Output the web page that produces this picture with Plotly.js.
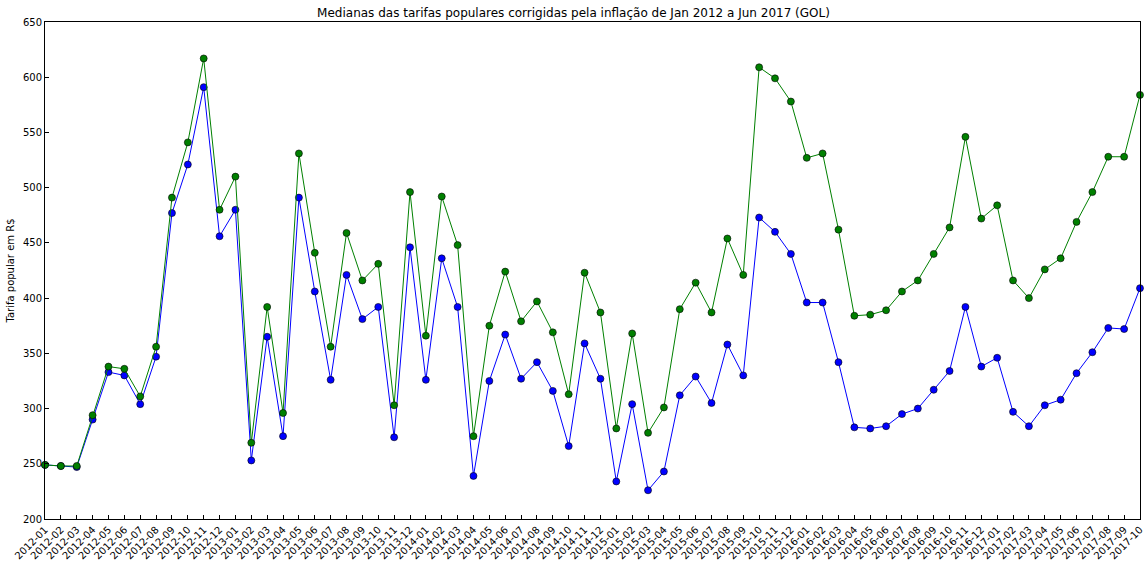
<!DOCTYPE html>
<html>
<head>
<meta charset="utf-8">
<script src="https://cdn.plot.ly/plotly-3.0.1.min.js"></script>
<style>body{margin:0;background:#fff;}</style>
</head>
<body>
<div id="chart" style="width:1147px;height:568px;"></div>
<script>
// months 2012-01 .. 2017-10
const months = [];
for (let y = 2012; y <= 2017; y++) {
    for (let m = 1; m <= 12; m++) {
        if (y === 2017 && m > 10) break;
        months.push(y + '-' + String(m).padStart(2, '0'));
    }
}

const blueValues = [249, 248, 247, 290, 333, 330, 304, 347, 477, 521, 591, 456, 480, 253, 365, 275, 491, 406, 326, 421,
    381, 392, 274, 446, 326, 436, 392, 239, 325, 367, 327, 342, 316, 266, 359, 327, 234, 304, 226, 243,
    312, 329, 305, 358, 330, 473, 460, 440, 396, 396, 342, 283, 282, 284, 295, 300, 317, 334, 392, 338,
    346, 297, 284, 303, 308, 332, 351, 373, 372, 409];

const greenValues = [249, 248, 248, 294, 338, 336, 311, 356, 491, 541, 617, 480, 510, 269, 392, 296, 531, 441, 356, 459,
    416, 431, 303, 496, 366, 492, 448, 275, 375, 424, 379, 397, 369, 313, 423, 387, 282, 368, 278, 301,
    390, 414, 387, 454, 421, 609, 599, 578, 527, 531, 462, 384, 385, 389, 406, 416, 440, 464, 546, 472,
    484, 416, 400, 426, 436, 469, 496, 528, 528, 584];

const idx = months.map((_, i) => i);

function trace(values, color) {
    return {
        type: 'scatter',
        mode: 'lines+markers',
        x: idx,
        y: values,
        line: { color: color, width: 1 },
        marker: { color: color, size: 7, line: { color: 'black', width: 0.6 } },
        showlegend: false,
        cliponaxis: false
    };
}

const data = [ trace(blueValues, '#0000ff'), trace(greenValues, '#008000') ];

const layout = {
    width: 1147,
    height: 568,
    margin: { l: 45, r: 7, t: 22, b: 49 },
    paper_bgcolor: 'white',
    plot_bgcolor: 'white',
    font: { family: 'DejaVu Sans', size: 11, color: 'black' },
    title: {
        text: 'Medianas das tarifas populares corrigidas pela inflação de Jan 2012 a Jun 2017 (GOL)',
        font: { size: 12 },
        x: 0.5, xanchor: 'center', y: 0.985, yanchor: 'top'
    },
    xaxis: {
        range: [0, months.length - 1],
        tickmode: 'array',
        tickvals: idx,
        ticktext: months,
        tickangle: -45,
        ticks: 'inside',
        ticklen: 4,
        tickcolor: 'black',
        showgrid: false,
        zeroline: false,
        showline: true,
        linecolor: 'black',
        mirror: true,
        tickfont: { size: 10 }
    },
    yaxis: {
        range: [200, 650],
        dtick: 50,
        ticks: 'inside',
        ticklen: 4,
        tickcolor: 'black',
        showgrid: false,
        zeroline: false,
        showline: true,
        linecolor: 'black',
        mirror: true,
        tickfont: { size: 10 },
        title: { text: 'Tarifa popular em R$', font: { size: 10 }, standoff: 6 }
    }
};

Plotly.newPlot('chart', data, layout, { displayModeBar: false });
</script>
</body>
</html>
